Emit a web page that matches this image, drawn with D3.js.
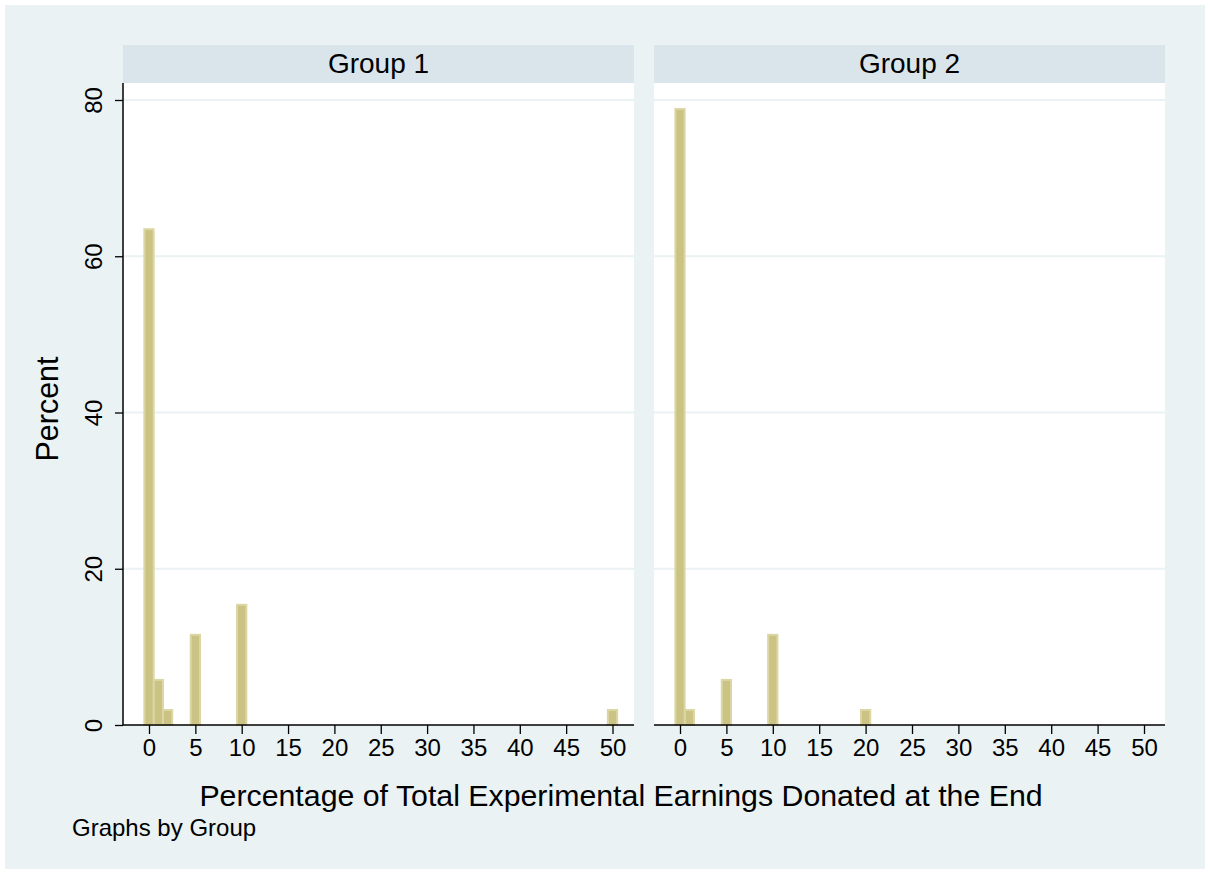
<!DOCTYPE html>
<html>
<head>
<meta charset="utf-8">
<script src="https://cdn.jsdelivr.net/npm/d3@7"></script>
<style>
  html, body { margin: 0; padding: 0; background: #ffffff; }
  svg { display: block; }
  text { font-family: "Liberation Sans", Arial, Helvetica, sans-serif; fill: #000; }
</style>
</head>
<body>
<svg id="chart" width="1210" height="874"></svg>
<script>
// ---- data ----
const groups = ["Group 1", "Group 2"];
const group1Values = [0, 1, 2, 5, 10, 50];
const group1Percent = [63.46, 5.77, 1.92, 11.54, 15.38, 1.92];
const group2Values = [0, 1, 5, 10, 20];
const group2Percent = [78.85, 1.92, 5.77, 11.54, 1.92];
const xTicks = [0, 5, 10, 15, 20, 25, 30, 35, 40, 45, 50];
const yTicks = [0, 20, 40, 60, 80];
const xTitle = "Percentage of Total Experimental Earnings Donated at the End";
const yTitle = "Percent";
const note = "Graphs by Group";

const series = [
  { name: groups[0], values: group1Values, pct: group1Percent },
  { name: groups[1], values: group2Values, pct: group2Percent }
];

// ---- layout ----
const svg = d3.select("#chart");
const bg = "#eaf2f3", stripFill = "#d9e5ea", gridCol = "#eaf2f3";
const barFill = "#cac383", barStroke = "#dbd6a4";

svg.append("rect").attr("x", 5).attr("y", 5).attr("width", 1200).attr("height", 864).attr("fill", bg);

const stripTop = 45, plotTop = 83, plotBottom = 725;
const panels = [
  { left: 123, right: 634, x0: 149, x50: 612.5 },
  { left: 654, right: 1165, x0: 680, x50: 1144 }
];

const y = d3.scaleLinear().domain([0, 80]).range([plotBottom, 100]);

series.forEach((s, i) => {
  const p = panels[i];
  const x = d3.scaleLinear().domain([0, 50]).range([p.x0, p.x50]);
  const g = svg.append("g");

  // strip
  g.append("rect").attr("x", p.left).attr("y", stripTop)
    .attr("width", p.right - p.left).attr("height", plotTop - stripTop).attr("fill", stripFill);
  g.append("text").attr("x", (p.left + p.right) / 2).attr("y", 73)
    .attr("text-anchor", "middle").attr("font-size", 28).text(s.name);

  // plot area
  g.append("rect").attr("x", p.left).attr("y", plotTop)
    .attr("width", p.right - p.left).attr("height", plotBottom - plotTop).attr("fill", "#ffffff");

  // gridlines
  g.selectAll("line.grid").data(yTicks.filter(d => d > 0)).enter().append("line")
    .attr("x1", p.left).attr("x2", p.right)
    .attr("y1", d => y(d)).attr("y2", d => y(d))
    .attr("stroke", gridCol).attr("stroke-width", 2);

  // bars (drawn in reverse so lower values sit on top)
  const data = s.values.map((v, k) => ({ v, pct: s.pct[k] })).reverse();
  g.selectAll("rect.bar").data(data).enter().append("rect")
    .attr("x", d => x(d.v - 0.5))
    .attr("width", d => x(d.v + 0.5) - x(d.v - 0.5))
    .attr("y", d => y(d.pct))
    .attr("height", d => y(0) - y(d.pct))
    .attr("fill", barFill).attr("stroke", barStroke).attr("stroke-width", 2);

  // x axis
  const xAxis = d3.axisBottom(x).tickValues(xTicks).tickSize(9).tickPadding(5).tickSizeOuter(0);
  const xa = g.append("g").attr("transform", `translate(0,${plotBottom})`).call(xAxis);
  xa.select(".domain").remove();
  xa.append("line").attr("x1", p.left).attr("x2", p.right).attr("y1", 0).attr("y2", 0)
    .attr("stroke", "#000").attr("stroke-width", 1.5);
  xa.selectAll(".tick line").attr("stroke", "#000").attr("stroke-width", 1.3);
  xa.selectAll(".tick text").attr("font-size", 24).attr("fill", "#000")
    .attr("font-family", "Liberation Sans, Arial, sans-serif");

  // y axis only on first panel
  if (i === 0) {
    const yAxis = d3.axisLeft(y).tickValues(yTicks).tickSize(8).tickPadding(0).tickSizeOuter(0);
    const ya = g.append("g").attr("transform", `translate(${p.left},0)`).call(yAxis);
    ya.select(".domain").remove();
    ya.append("line").attr("x1", 0).attr("x2", 0).attr("y1", plotTop).attr("y2", plotBottom)
      .attr("stroke", "#000").attr("stroke-width", 1.5);
    ya.selectAll(".tick line").attr("stroke", "#000").attr("stroke-width", 1.3);
    ya.selectAll(".tick text").remove();
    ya.selectAll(".tick").append("text")
      .attr("transform", "translate(-21,0) rotate(-90)")
      .attr("text-anchor", "middle")
      .attr("font-size", 24)
      .attr("fill", "#000")
      .text(d => d);
  }
});

// axis titles
svg.append("text").attr("x", 621).attr("y", 806).attr("text-anchor", "middle")
  .attr("font-size", 30.3).text(xTitle);
svg.append("text").attr("transform", "translate(58,409) rotate(-90)")
  .attr("text-anchor", "middle").attr("font-size", 30.5).text(yTitle);
svg.append("text").attr("x", 72).attr("y", 836).attr("font-size", 24).text(note);
</script>
</body>
</html>
